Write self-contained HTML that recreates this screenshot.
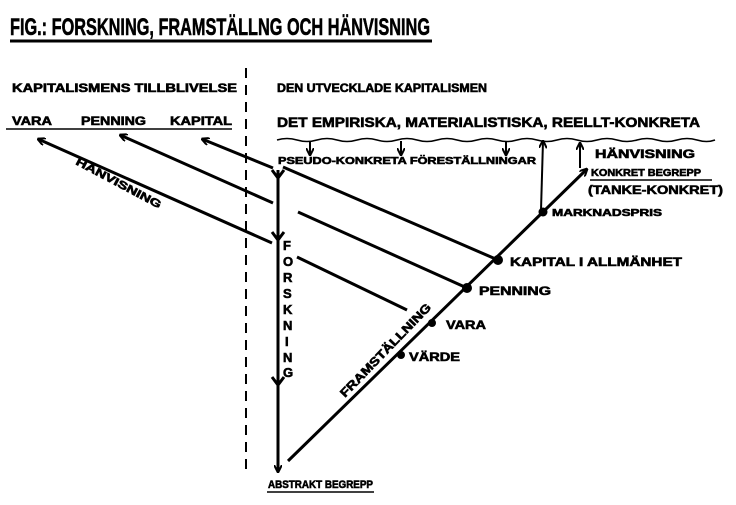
<!DOCTYPE html>
<html><head><meta charset="utf-8"><style>
html,body{margin:0;padding:0;background:#fff;width:736px;height:505px;overflow:hidden}
svg{display:block}
text{font-family:"Liberation Sans",sans-serif;font-weight:bold;fill:#000;stroke:#000;stroke-width:0.6}
</style></head><body>
<svg width="736" height="505" viewBox="0 0 736 505" xmlns="http://www.w3.org/2000/svg">
<defs>
<marker id="ah" viewBox="0 0 10 10" refX="9" refY="5" markerWidth="8" markerHeight="8" orient="auto-start-reverse" markerUnits="userSpaceOnUse"><path d="M0,0 L10,5 L0,10" fill="none" stroke="#000" stroke-width="2.5"/></marker>
</defs>
<text x="10" y="35" font-size="24" textLength="420" lengthAdjust="spacingAndGlyphs">FIG.: FORSKNING, FRAMSTÄLLNG OCH HÄNVISNING</text>
<line x1="10" y1="41" x2="432" y2="41" stroke="#000" stroke-width="3"/>
<line x1="246" y1="68" x2="246" y2="470" stroke="#000" stroke-width="2" stroke-dasharray="10,7"/>
<text x="12" y="92" font-size="12" textLength="225" lengthAdjust="spacingAndGlyphs">KAPITALISMENS TILLBLIVELSE</text>
<text x="277" y="92" font-size="12" textLength="210" lengthAdjust="spacingAndGlyphs">DEN UTVECKLADE KAPITALISMEN</text>
<text x="12" y="125" font-size="12" textLength="40" lengthAdjust="spacingAndGlyphs">VARA</text>
<text x="81" y="125" font-size="12" textLength="65" lengthAdjust="spacingAndGlyphs">PENNING</text>
<text x="170" y="125" font-size="12" textLength="62" lengthAdjust="spacingAndGlyphs">KAPITAL</text>
<line x1="6" y1="129" x2="232" y2="129" stroke="#000" stroke-width="1.5"/>
<text x="277" y="127" font-size="14" textLength="423" lengthAdjust="spacingAndGlyphs">DET EMPIRISKA, MATERIALISTISKA, REELLT-KONKRETA</text>
<path d="M277,140 q10,-3 20,0 t20,0 t20,0 t20,0 t20,0 t20,0 t20,0 t20,0 t20,0 t20,0 t20,0 t20,0 t20,0 t20,0 t20,0 t20,0 t20,0 t20,0 t20,0 t20,0 t20,0 t18,0" fill="none" stroke="#000" stroke-width="1.5"/>
<g stroke="#000" stroke-width="2" marker-end="url(#ah)">
<line x1="310" y1="141" x2="310" y2="155"/>
<line x1="401" y1="141" x2="401" y2="155"/>
<line x1="506" y1="141" x2="506" y2="155"/>
<line x1="541" y1="210" x2="543" y2="141"/>
<line x1="580" y1="168" x2="580" y2="143"/>
</g>
<g stroke="#000" stroke-width="3" marker-end="url(#ah)">
<line x1="288" y1="461" x2="587" y2="169"/>
<line x1="273" y1="168" x2="202" y2="139"/>
<line x1="273" y1="203" x2="120" y2="135"/>
<line x1="272" y1="243" x2="38" y2="139"/>
<line x1="278" y1="170" x2="278" y2="472"/>
</g>
<g stroke="#000" stroke-width="3" fill="none">
<path d="M272,170 L278,178 L284,170"/>
<path d="M272,232 L278,240 L284,232"/>
<path d="M272,377 L278,385 L284,377"/>
<line x1="283" y1="167" x2="498" y2="260"/>
<line x1="298" y1="212" x2="467" y2="288"/>
<line x1="297" y1="257" x2="407" y2="310"/>
</g>
<g fill="#000">
<circle cx="401" cy="355" r="4"/><circle cx="432" cy="323" r="4"/><circle cx="467" cy="288" r="5"/><circle cx="498" cy="260" r="5"/><circle cx="543" cy="212" r="4.5"/>
</g>
<text x="278" y="164" font-size="10" textLength="258" lengthAdjust="spacingAndGlyphs">PSEUDO-KONKRETA FÖRESTÄLLNINGAR</text>
<text x="595" y="158" font-size="12" textLength="100" lengthAdjust="spacingAndGlyphs">HÄNVISNING</text>
<text x="591" y="176" font-size="10" textLength="110" lengthAdjust="spacingAndGlyphs">KONKRET BEGREPP</text>
<line x1="590" y1="180" x2="712" y2="180" stroke="#000" stroke-width="1.5"/>
<text x="588" y="194" font-size="12" textLength="135" lengthAdjust="spacingAndGlyphs">(TANKE-KONKRET)</text>
<text x="552" y="216" font-size="10" textLength="110" lengthAdjust="spacingAndGlyphs">MARKNADSPRIS</text>
<text x="510" y="266" font-size="12" textLength="172" lengthAdjust="spacingAndGlyphs">KAPITAL I ALLMÄNHET</text>
<text x="479" y="295" font-size="12" textLength="72" lengthAdjust="spacingAndGlyphs">PENNING</text>
<text x="446" y="329" font-size="12" textLength="40" lengthAdjust="spacingAndGlyphs">VARA</text>
<text x="409" y="361" font-size="12" textLength="51" lengthAdjust="spacingAndGlyphs">VÄRDE</text>
<g font-size="13">
<text x="283" y="250">F</text><text x="283" y="266">O</text><text x="283" y="282">R</text><text x="283" y="298">S</text><text x="283" y="314">K</text><text x="283" y="330">N</text><text x="285" y="346">I</text><text x="283" y="362">N</text><text x="283" y="377">G</text>
</g>
<text transform="translate(75,164) rotate(28)" font-size="11" textLength="95" lengthAdjust="spacingAndGlyphs">HÄNVISNING</text>
<text transform="translate(345,398) rotate(-46)" font-size="12" textLength="125" lengthAdjust="spacingAndGlyphs">FRAMSTÄLLNING</text>
<text x="268" y="488" font-size="11" textLength="105" lengthAdjust="spacingAndGlyphs">ABSTRAKT BEGREPP</text>
<line x1="267" y1="492" x2="374" y2="492" stroke="#000" stroke-width="1.5"/>
</svg>
</body></html>
